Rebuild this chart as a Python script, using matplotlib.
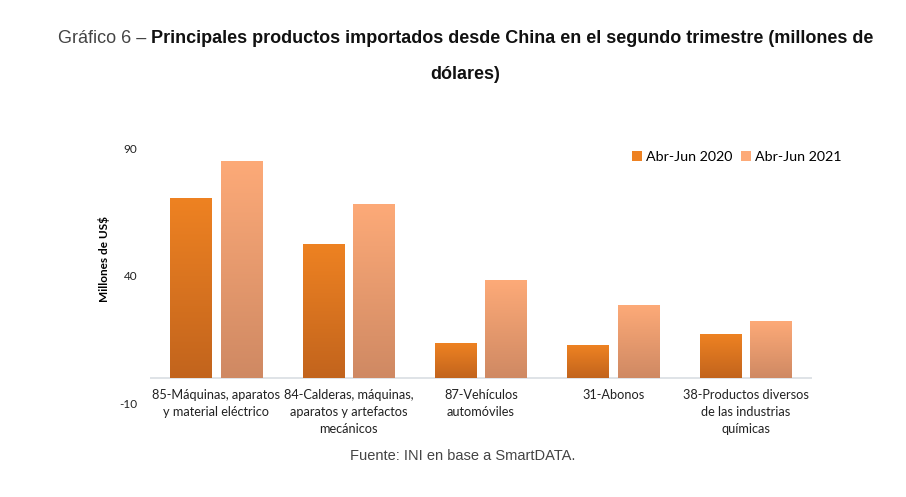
import matplotlib.pyplot as plt
import numpy as np
from matplotlib.colors import LinearSegmentedColormap
from matplotlib.patches import Patch

categorias = [
    "85-Máquinas, aparatos\ny material eléctrico",
    "84-Calderas, máquinas,\naparatos y artefactos\nmecánicos",
    "87-Vehículos\nautomóviles",
    "31-Abonos",
    "38-Productos diversos\nde las industrias\nquímicas",
]
abr_jun_2020 = [70.2, 52.5, 13.7, 12.9, 16.9]
abr_jun_2021 = [85.1, 68.2, 38.4, 28.6, 22.0]
series = ["Abr-Jun 2020", "Abr-Jun 2021"]
yticks = [-10, 40, 90]

cols_2020 = ("#EE8222", "#C2641D")
cols_2021 = ("#FDAA78", "#CF8963")

fig = plt.figure(figsize=(9.06, 4.97), dpi=100)
ax = fig.add_axes([0.1656, 0.1891, 0.7306, 0.5131])

x = np.arange(len(categorias))
w = 0.315
off = 0.19


def gradient_bars(xs, vals, cols):
    bars = ax.bar(xs, vals, w, color="none", edgecolor="none")
    cmap = LinearSegmentedColormap.from_list("g", [cols[1], cols[0]])
    grad = np.linspace(0, 1, 256).reshape(-1, 1)
    for b in bars:
        x0, y0 = b.get_x(), b.get_y()
        im = ax.imshow(grad, cmap=cmap, origin="lower", aspect="auto",
                       extent=[x0, x0 + b.get_width(), y0, y0 + b.get_height()],
                       zorder=2)
        im.set_clip_path(b)


gradient_bars(x - off, abr_jun_2020, cols_2020)
gradient_bars(x + off, abr_jun_2021, cols_2021)

ax.set_xlim(-0.5, len(categorias) - 0.5)
ax.set_ylim(-10, 90)
ax.axhline(0, color="#D9DEE3", lw=1.2, zorder=1)
for s in ax.spines.values():
    s.set_visible(False)

ax.set_yticks(yticks)
ax.set_yticklabels([str(t) for t in yticks], fontsize=8.5, family="Lato", color="#222222")
ax.tick_params(axis="y", length=0, pad=9)
ax.set_xticks([])

for xi, lab in zip(x, categorias):
    ax.text(xi, -4.6, lab, ha="center", va="top", fontsize=9.2, family="Lato",
            color="#222222", linespacing=1.5, transform=ax.transData)

ax.set_ylabel("Millones de US$", fontsize=8.5, family="Lato", fontweight="bold")
ax.yaxis.set_label_coords(-0.06, 0.565)

handles = [Patch(facecolor=cols_2020[0], edgecolor="none"),
           Patch(facecolor=cols_2021[0], edgecolor="none")]
ax.legend(handles, series, loc="upper right", bbox_to_anchor=(1.065, 1.04), ncol=2,
          frameon=False, prop={"family": "Lato", "size": 10.3},
          handlelength=0.7, handleheight=0.7, handletextpad=0.3, columnspacing=0.6)

# titulo en dos partes (normal + negrita)
t1 = fig.text(0.064, 0.923, "Gráfico 6 – ", fontsize=13, family="Liberation Sans",
              color="#444444", va="center", ha="left")
fig.canvas.draw()
bb = t1.get_window_extent()
x2 = bb.x1 / fig.bbox.width
fig.text(x2, 0.923, "Principales productos importados desde China en el segundo trimestre (millones de",
         fontsize=13, family="Liberation Sans", fontweight="bold", color="#111111",
         va="center", ha="left")
fig.text(0.513, 0.851, "dólares)", fontsize=13, family="Liberation Sans",
         fontweight="bold", color="#111111", va="center", ha="center")

fig.text(0.511, 0.082, "Fuente: INI en base a SmartDATA.", fontsize=10.5,
         family="Liberation Sans", color="#444444", ha="center", va="center")

fig.savefig("out.png", dpi=100)
